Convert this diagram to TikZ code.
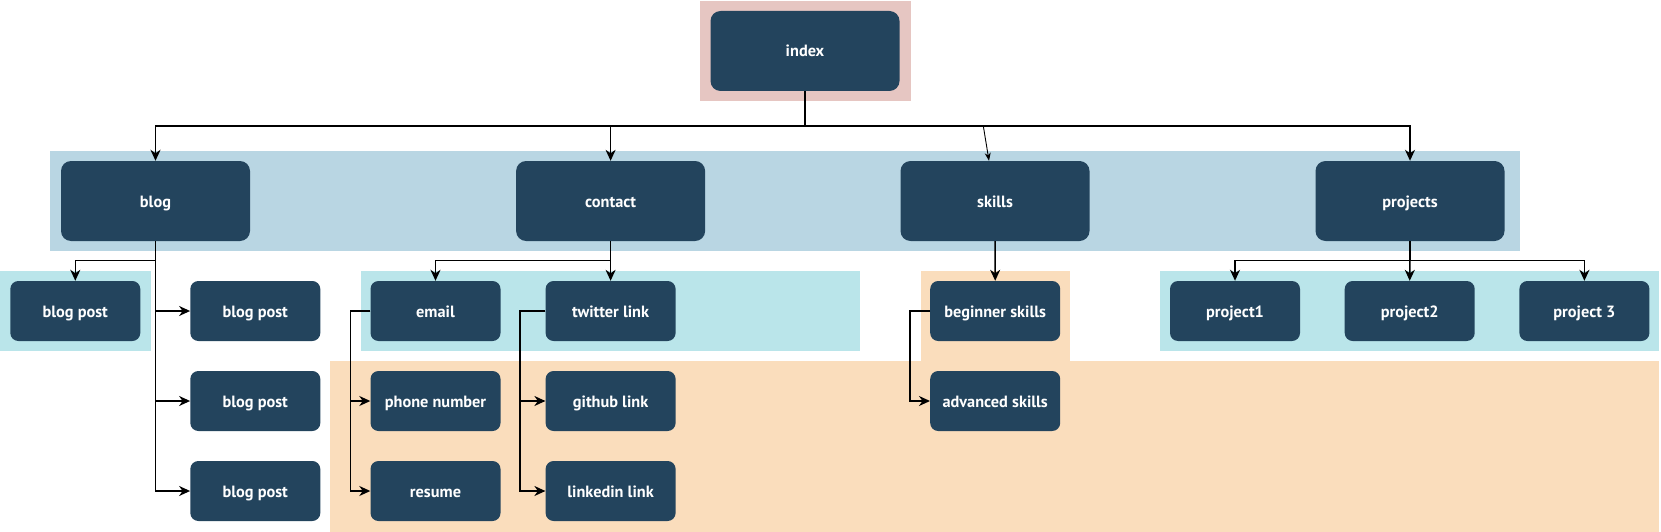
\documentclass[tikz,border=0pt]{standalone}
\usepackage{fontspec}
\setmainfont{PT Sans}
\usetikzlibrary{arrows.meta}
\definecolor{nodeblue}{HTML}{23445D}
\definecolor{pinkbg}{HTML}{E6C6C2}
\definecolor{bandbg}{HTML}{B9D6E3}
\definecolor{cyanbg}{HTML}{BAE5EA}
\definecolor{orangebg}{HTML}{FADDBC}
\tikzset{
  box/.style={fill=nodeblue, draw=none, rounded corners=10pt, text=white,
    font=\fontsize{16.3}{19}\selectfont\bfseries, inner sep=0pt, align=center,
    text height=16pt, text depth=4pt},
  bigbox/.style={box, minimum width=189pt, minimum height=80pt},
  smallbox/.style={box, rounded corners=8pt, minimum width=130pt, minimum height=60pt},
  edge/.style={draw=black, line width=1.5pt, -{Stealth[length=11pt,width=10pt,inset=3.5pt]}},
  thinedge/.style={draw=black, line width=0.9pt, -{Stealth[length=8pt,width=6pt,inset=2.5pt]}},
}
\begin{document}
\begin{tikzpicture}[x=1pt,y=-1pt]
\useasboundingbox (0,0) rectangle (1661,532);
% backgrounds
\fill[pinkbg] (700,1) rectangle (911,101);
\fill[bandbg] (50,151) rectangle (1520,251);
\fill[cyanbg] (0,271) rectangle (150.7,351);
\fill[cyanbg] (360.5,271) rectangle (860,351);
\fill[cyanbg] (1160.3,271) rectangle (1659,351);
\fill[orangebg] (330.3,361) rectangle (1659,532);
\fill[orangebg] (920.5,271) rectangle (1070.3,362);
% nodes
\node[bigbox] (index) at (805,51) {index};
\node[bigbox] (blog) at (155.5,201) {blog};
\node[bigbox] (contact) at (610.6,201) {contact};
\node[bigbox] (skills) at (995,201) {skills};
\node[bigbox] (projects) at (1410,201) {projects};
\node[smallbox] (bp1) at (75.3,311) {blog post};
\node[smallbox] (bp2) at (255.3,311) {blog post};
\node[smallbox] (bp3) at (255.3,401) {blog post};
\node[smallbox] (bp4) at (255.3,491) {blog post};
\node[smallbox] (email) at (435.5,311) {email};
\node[smallbox] (phone) at (435.5,401) {phone number};
\node[smallbox] (resume) at (435.5,491) {resume};
\node[smallbox] (twitter) at (610.6,311) {twitter link};
\node[smallbox] (github) at (610.6,401) {github link};
\node[smallbox] (linkedin) at (610.6,491) {linkedin link};
\node[smallbox] (beginner) at (995.2,311) {beginner skills};
\node[smallbox] (advanced) at (995.2,401) {advanced skills};
\node[smallbox] (p1) at (1235,311) {project1};
\node[smallbox] (p2) at (1409.7,311) {project2};
\node[smallbox] (p3) at (1584.4,311) {project 3};
% connector coordinates
\coordinate (bus) at (805,126);
\coordinate (skin) at (983.3,126);
\coordinate (bb) at (155.5,260.7);
\coordinate (cb) at (610.6,260.7);
\coordinate (pb) at (1410,260.7);
% connectors
\draw[edge] (index.south) -- (bus) -| (blog.north);
\draw[edge] (bus) -| (contact.north);
\draw[edge] (bus) -| (projects.north);
\draw[thinedge] (skin) -- ([xshift=-6pt]skills.north);
\draw[edge] (blog.south) -- (bb) -| (bp1.north);
\draw[edge] (blog.south) |- (bp2.west);
\draw[edge] (blog.south) |- (bp3.west);
\draw[edge] (blog.south) |- (bp4.west);
\draw[edge] (contact.south) -- (cb) -| (email.north);
\draw[edge] (contact.south) -- (twitter.north);
\draw[edge] (email.west) -- ++(-20,0) |- (phone.west);
\draw[edge] (email.west) -- ++(-20,0) |- (resume.west);
\draw[edge] (twitter.west) -- ++(-25.4,0) |- (github.west);
\draw[edge] (twitter.west) -- ++(-25.4,0) |- (linkedin.west);
\draw[edge] (skills.south) -- (beginner.north);
\draw[edge] (beginner.west) -- ++(-20,0) |- (advanced.west);
\draw[edge] (projects.south) -- (pb) -| (p1.north);
\draw[edge] (projects.south) -- (p2.north);
\draw[edge] (pb) -| (p3.north);
\end{tikzpicture}
\end{document}
